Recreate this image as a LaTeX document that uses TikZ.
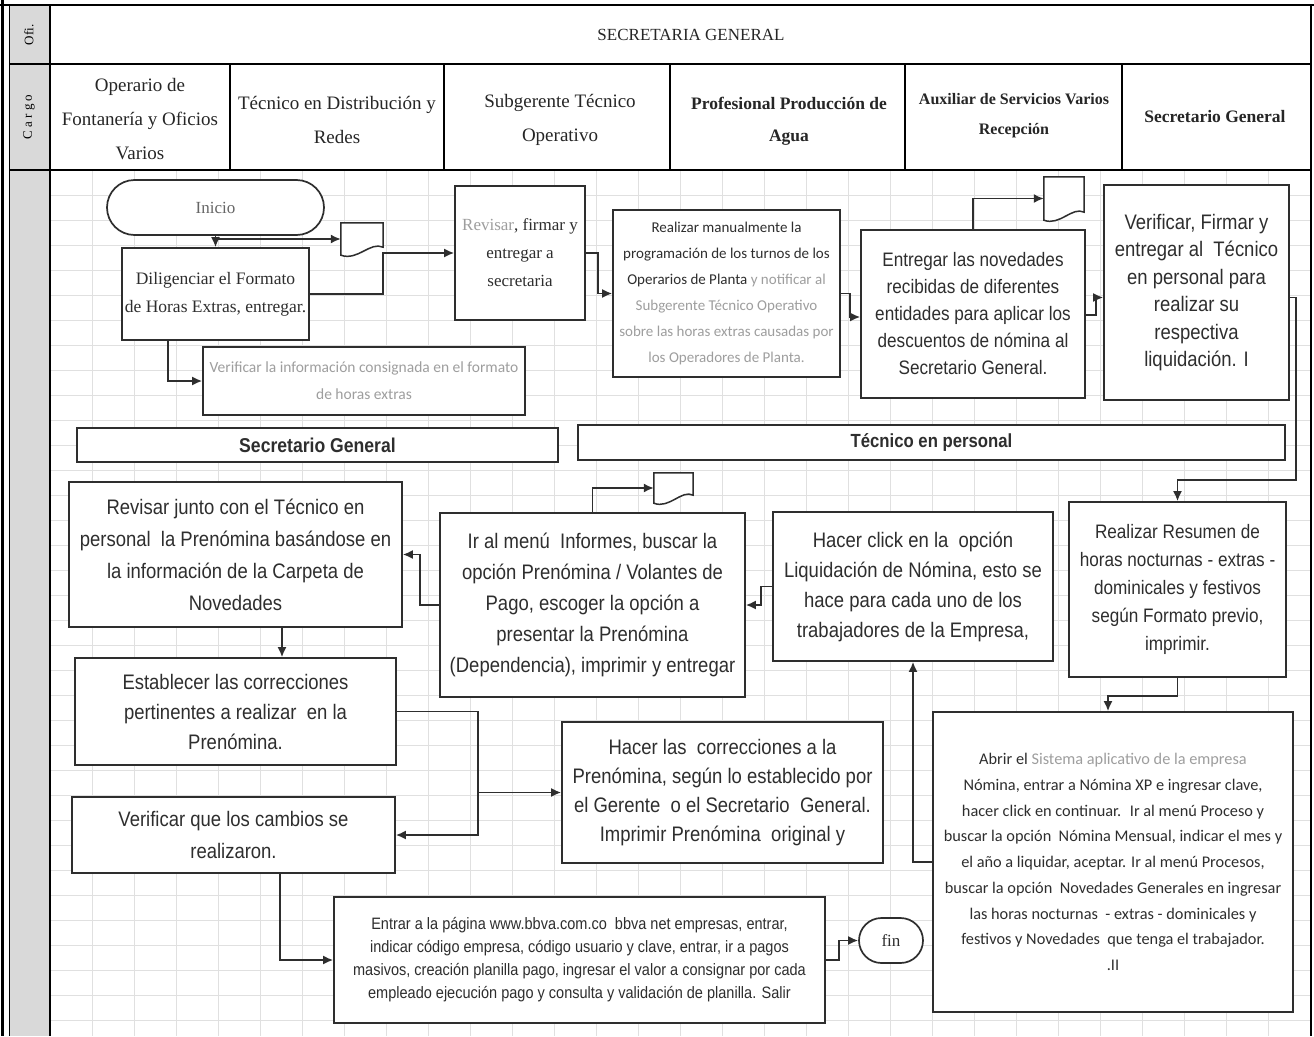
\documentclass[tikz,border=0pt]{standalone}
\usepackage{fontspec}
\setmainfont{Liberation Serif}
\newfontfamily\nsans[FakeStretch=0.88]{Liberation Sans}
\newfontfamily\calib{Carlito}
\usetikzlibrary{shapes.misc,arrows.meta,calc}

\definecolor{ink}{gray}{0.18}
\definecolor{pale}{gray}{0.62}
\definecolor{gridc}{gray}{0.88}
\definecolor{lab}{gray}{0.85}

\tikzset{
 box/.style={draw=ink, line width=1.7pt, fill=white, inner sep=2pt, align=center, text=ink},
 serifbox/.style={box, font=\fontsize{17.5}{28}\selectfont},
 nbox/.style={box, font=\nsans\fontsize{21}{31}\selectfont},
 cbox/.style={box, font=\calib\fontsize{15}{26}\selectfont},
 term/.style={box, rounded rectangle, font=\fontsize{17}{20}\selectfont},
 docnode/.style={inner sep=0pt},
 arr/.style={draw=ink, line width=1.7pt, -{Latex[length=10pt,width=9pt]}},
 hdr/.style={align=center, text=black!85, font=\fontsize{19}{34}\selectfont},
 hdrb/.style={align=center, text=black!85, font=\bfseries\fontsize{17.5}{32}\selectfont},
 bar/.style={box, font=\nsans\bfseries\fontsize{20}{24}\selectfont},
 gridline/.style={draw=gridc, line width=0.7pt},
}
\newcommand\docdraw[1]{\draw[draw=ink,line width=1.5pt,fill=white] (#1.north west) -- (#1.north east) -- ($(#1.south east)+(0,-8)$) .. controls ($(#1.south)+(8,-14)$) and ($(#1.south)+(-4,6)$) .. (#1.south west) -- cycle;}

\begin{document}
\begin{tikzpicture}[x=1pt,y=-1pt]
\useasboundingbox (0,0) rectangle (1314,1036);
\fill[white] (0,0) rectangle (1314,1036);

% background grid
\foreach \gx in {92,134,...,1310} \draw[gridline] (\gx,170) -- (\gx,1036);
\foreach \gy in {195,220,...,1036} \draw[gridline] (50,\gy) -- (1312,\gy);

% label column
\fill[lab] (9,5) rectangle (50,1036);
\draw[line width=3pt] (2,0) -- (2,1036);
\draw[line width=1pt] (9,5) -- (9,1036);
\draw[line width=1.5pt] (50,5) -- (50,1036);
\draw[line width=2.2pt] (0,5) -- (1314,5);
\draw[line width=1.8pt] (9,64) -- (1312,64);
\draw[line width=1.8pt] (9,170) -- (1312,170);
\draw[line width=1.5pt] (1311,5) -- (1311,1036);
\foreach \cx in {230,444,670,905,1122} \draw[line width=1.3pt] (\cx,64) -- (\cx,170);

% header texts
\node[rotate=90, font=\fontsize{13}{13}\selectfont] (lofi) at (29,35) {Ofi.};
\node[rotate=90, font=\fontsize{13}{13}\selectfont] (lcargo) at (29,117) {C a r g o};
\node[hdr, font=\fontsize{17}{20}\selectfont] (ofi) at (691,35) {SECRETARIA GENERAL};
\node[hdr] (c1) at (140,119) {Operario de\\Fontanería y Oficios\\Varios};
\node[hdr] (c2) at (337,120) {Técnico en Distribución y\\Redes};
\node[hdr] (c3) at (560,120) {Subgerente Técnico\\Operativo};
\node[hdrb] (c4) at (789,121) {Profesional Producción de\\Agua};
\node[hdrb, font=\bfseries\fontsize{16}{30}\selectfont] (c5) at (1014,116) {Auxiliar de Servicios Varios\\Recepción};
\node[hdrb] (c6) at (1215,117) {Secretario General};

% nodes
\node[term, text=black!60, minimum width=221pt, minimum height=55pt] (inicio) at (215.5,207.5) {Inicio};
\node[serifbox, minimum width=187pt, minimum height=92pt] (dilig) at (215.5,294) {Diligenciar el Formato\\de Horas Extras, entregar.};
\node[docnode, minimum width=42pt, minimum height=32pt] (doc1) at (362,239) {};
\docdraw{doc1}
\node[serifbox, font=\fontsize{17}{28}\selectfont, minimum width=130pt, minimum height=134pt] (revisar) at (520,253) {{\color{pale}Revisar}, firmar y\\entregar a\\secretaria};
\node[cbox, text=pale, font=\calib\fontsize{15.5}{27}\selectfont, minimum width=322pt, minimum height=68pt] (verif1) at (364,381) {Verificar la información consignada en el formato\\de horas extras};
\node[cbox, minimum width=227pt, minimum height=167pt] (realizar) at (726.5,293.5) {Realizar manualmente la\\programación de los turnos de los\\Operarios de Planta {\color{pale}y notificar al}\\{\color{pale}Subgerente Técnico Operativo}\\{\color{pale}sobre las horas extras causadas por}\\{\color{pale}los Operadores de Planta.}};
\node[nbox, font=\nsans\fontsize{19.5}{27}\selectfont, minimum width=224pt, minimum height=168pt] (entregar) at (973,314) {Entregar las novedades\\recibidas de diferentes\\entidades para aplicar los\\descuentos de nómina al\\Secretario General.};
\node[docnode, minimum width=40pt, minimum height=43pt] (doc2) at (1064,198.5) {};
\docdraw{doc2}
\node[nbox, font=\nsans\fontsize{21}{27.5}\selectfont, minimum width=185pt, minimum height=215pt] (verifirmar) at (1196.5,292.5) {Verificar, Firmar y\\entregar al~ Técnico\\en personal para\\realizar su\\respectiva\\liquidación. I};

\node[bar, minimum width=481pt, minimum height=34pt] (secbar) at (317.5,445) {Secretario General};
\node[bar, font=\nsans\bfseries\fontsize{19}{24}\selectfont, minimum width=707pt, minimum height=35pt] (tecbar) at (931.5,442.5) {Técnico en personal};

\node[nbox, font=\nsans\fontsize{19.5}{28}\selectfont, minimum width=217pt, minimum height=175pt] (resumen) at (1177.5,589.5) {Realizar Resumen de\\horas nocturnas - extras -\\dominicales y festivos\\según Formato previo,\\imprimir.};
\node[nbox, font=\nsans\fontsize{21}{30}\selectfont, minimum width=280pt, minimum height=149pt] (hacerclick) at (913,586.5) {Hacer click en la~ opción\\Liquidación de Nómina, esto se\\hace para cada uno de los\\trabajadores de la Empresa,};
\node[nbox, minimum width=305pt, minimum height=184pt] (irmenu) at (592.5,605) {Ir al menú~ Informes, buscar la\\opción Prenómina / Volantes de\\Pago, escoger la opción a\\presentar la Prenómina\\(Dependencia), imprimir y entregar};
\node[docnode, minimum width=39pt, minimum height=30pt] (doc3) at (673.5,488) {};
\docdraw{doc3}
\node[nbox, font=\nsans\fontsize{21}{32}\selectfont, minimum width=333pt, minimum height=145pt] (revjunto) at (235.5,554.5) {Revisar junto con el Técnico en\\personal~ la Prenómina basándose en\\la información de la Carpeta de\\Novedades};
\node[nbox, font=\nsans\fontsize{21}{30}\selectfont, minimum width=321pt, minimum height=107pt] (establecer) at (235.5,711.5) {Establecer las correcciones\\pertinentes a realizar~ en la\\Prenómina.};
\node[nbox, font=\nsans\fontsize{21}{32}\selectfont, minimum width=323pt, minimum height=76pt] (verifcambios) at (233.5,835) {Verificar que los cambios se\\realizaron.};
\node[nbox, font=\nsans\fontsize{21}{29}\selectfont, minimum width=321pt, minimum height=141pt] (hacercorr) at (722.5,792.5) {Hacer las~ correcciones a la\\Prenómina, según lo establecido por\\el Gerente~ o el Secretario~ General.\\Imprimir Prenómina~ original y};
\node[nbox, font=\nsans\fontsize{16.5}{23}\selectfont, minimum width=491pt, minimum height=126pt] (entrar) at (579.5,960) {Entrar a la página www.bbva.com.co~ bbva net empresas, entrar,\\indicar código empresa, código usuario y clave, entrar, ir a pagos\\masivos, creación planilla pago, ingresar el valor a consignar por cada\\empleado ejecución pago y consulta y validación de planilla. Salir};
\node[term, minimum width=68pt, minimum height=45pt] (fin) at (891,940.5) {fin};
\node[cbox, font=\calib\fontsize{16.3}{25.7}\selectfont, minimum width=360pt, minimum height=300pt] (abrir) at (1113,862) {Abrir el {\color{pale}Sistema aplicativo de la empresa}\\Nómina, entrar a Nómina XP e ingresar clave,\\hacer click en continuar.~ Ir al menú Proceso y\\buscar la opción~ Nómina Mensual, indicar el mes y\\el año a liquidar, aceptar. Ir al menú Procesos,\\buscar la opción~ Novedades Generales en ingresar\\las horas nocturnas~ - extras - dominicales y\\festivos y Novedades~ que tenga el trabajador.\\.II};

% coordinates
\coordinate (j1) at (inicio.south |- doc1.west);
\coordinate (c9) at (1296,480);
\coordinate (j16) at (478,792.5);

% connectors
\draw[arr] (inicio.south) -- (dilig.north);
\draw[arr] (j1) -- (doc1.west);
\draw[arr] (dilig.east) -| (doc1.east |- revisar.west) -- (revisar.west);
\draw[arr] ($(dilig.south)+(-47.5,0)$) |- (verif1.west);
\draw[arr] (revisar.east) -- ++(12,0) |- (realizar.west);
\draw[arr] (realizar.east) -- ++(9,0) |- ($(entregar.west)+(0,3)$);
\draw[arr] (entregar.north) |- (doc2.west);
\draw[arr] ($(entregar.east)+(0,1)$) -- ++(10,0) |- ($(verifirmar.west)+(0,5)$);
\draw[arr] ($(verifirmar.east)+(0,5)$) -| (c9) -| (resumen.north);
\draw[arr] (resumen.south) -- ++(0,18) -| ($(abrir.north)+(-5,0)$);
\draw[arr] (abrir.west) -| (hacerclick.south);
\draw[arr] (hacerclick.west) -- ++(-11,0) |- (irmenu.east);
\draw[arr] (irmenu.north) |- (doc3.west);
\draw[arr] (irmenu.west) -- ++(-19,0) |- (revjunto.east);
\draw[arr] ($(revjunto.south)+(46.5,0)$) -- ($(establecer.north)+(46.5,0)$);
\draw[arr] (establecer.east) -| (j16) -- (hacercorr.west);
\draw[arr] (j16) |- (verifcambios.east);
\draw[arr] ($(verifcambios.south)+(46.5,0)$) |- (entrar.west);
\draw[arr] (entrar.east) -- ++(13,0) |- (fin.west);
\end{tikzpicture}
\end{document}
